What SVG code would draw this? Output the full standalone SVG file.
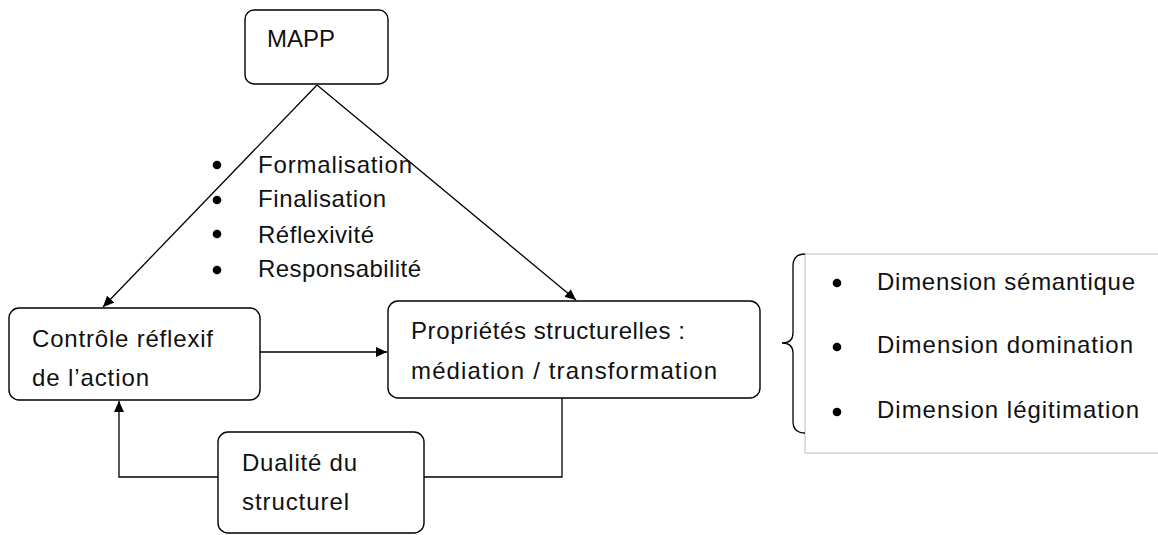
<svg xmlns="http://www.w3.org/2000/svg" width="1158" height="535" viewBox="0 0 1158 535">
<style>
.box{fill:#fff;stroke:#000;stroke-width:1.4}
.t{font-family:"Liberation Sans",Arial,sans-serif;font-size:24px;fill:#111}
.ln{fill:none;stroke:#000;stroke-width:1.3}
.dot{fill:#000}
</style>
<defs>
<marker id="ah" markerUnits="userSpaceOnUse" markerWidth="12" markerHeight="10" refX="11" refY="5" orient="auto">
<path d="M0,0 L11,5 L0,10 z" fill="#000"/>
</marker>
</defs>
<rect width="1158" height="535" fill="#fff"/>
<g id="connectors">
<line class="ln" x1="317" y1="85" x2="103" y2="307" marker-end="url(#ah)"/>
<line class="ln" x1="317" y1="85" x2="576" y2="300" marker-end="url(#ah)"/>
<line class="ln" x1="260" y1="352" x2="387" y2="352" marker-end="url(#ah)"/>
<polyline class="ln" points="218,477 119,477 119,401" marker-end="url(#ah)"/>
<polyline class="ln" points="424,477 562,477 562,398"/>
</g>
<g id="mapp">
<rect class="box" x="245" y="10" width="143" height="74" rx="9"/>
<text class="t" x="267" y="47" textLength="68" lengthAdjust="spacing">MAPP</text>
</g>
<g id="list-left">
<circle class="dot" cx="217" cy="165" r="4.3"/>
<circle class="dot" cx="217" cy="200" r="4.3"/>
<circle class="dot" cx="217" cy="234" r="4.3"/>
<circle class="dot" cx="217" cy="270" r="4.3"/>
<text class="t" x="258" y="173" textLength="154" lengthAdjust="spacing">Formalisation</text>
<text class="t" x="258" y="207" textLength="128" lengthAdjust="spacing">Finalisation</text>
<text class="t" x="258" y="243" textLength="116" lengthAdjust="spacing">Réflexivité</text>
<text class="t" x="258" y="277" textLength="163" lengthAdjust="spacing">Responsabilité</text>
</g>
<g id="controle">
<rect class="box" x="9" y="308" width="251" height="92" rx="10"/>
<text class="t" x="32" y="347" textLength="181" lengthAdjust="spacing">Contrôle réflexif</text>
<text class="t" x="32" y="386" textLength="117" lengthAdjust="spacing">de l’action</text>
</g>
<g id="proprietes">
<rect class="box" x="388" y="301" width="372" height="97" rx="10"/>
<text class="t" x="411" y="339" textLength="274" lengthAdjust="spacing">Propriétés structurelles :</text>
<text class="t" x="411" y="379" textLength="306" lengthAdjust="spacing">médiation / transformation</text>
</g>
<g id="dualite">
<rect class="box" x="218" y="432" width="206" height="101" rx="10"/>
<text class="t" x="242" y="471" textLength="115" lengthAdjust="spacing">Dualité du</text>
<text class="t" x="242" y="510" textLength="107" lengthAdjust="spacing">structurel</text>
</g>
<g id="dimensions">
<path d="M1160,254 L805,254 L805,453 L1160,453" fill="#fff" stroke="#bdbdbd" stroke-width="1"/>
<path class="ln" d="M805,254 Q793,254 793,266 L793,333 Q793,343 782,343 Q793,343 793,353 L793,421 Q793,433 805,433" stroke-width="1.2"/>
<circle class="dot" cx="837" cy="283" r="4.3"/>
<circle class="dot" cx="837" cy="347" r="4.3"/>
<circle class="dot" cx="837" cy="412" r="4.3"/>
<text class="t" x="877" y="290" textLength="258" lengthAdjust="spacing">Dimension sémantique</text>
<text class="t" x="877" y="353" textLength="256" lengthAdjust="spacing">Dimension domination</text>
<text class="t" x="877" y="418" textLength="262" lengthAdjust="spacing">Dimension légitimation</text>
</g>
</svg>
